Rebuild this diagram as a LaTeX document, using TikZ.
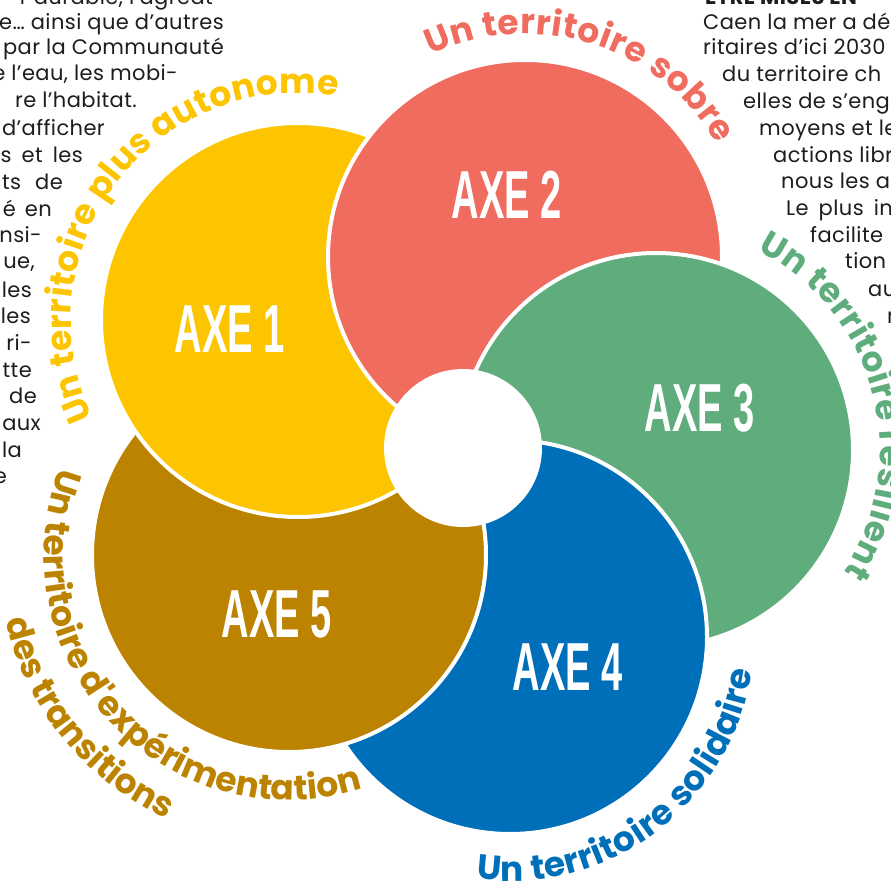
\documentclass[tikz,border=0pt]{standalone}
\usepackage{fontspec}
\usetikzlibrary{decorations.text,calc}
\newfontfamily\arcfont{Poppins}
\newfontfamily\bodyfont[LetterSpace=2]{Poppins}
\newfontfamily\axefont[FakeStretch=0.56]{Liberation Sans}
\definecolor{cyel}{HTML}{FDC500}
\definecolor{cred}{HTML}{EF6C5F}
\definecolor{cgrn}{HTML}{5FAC7D}
\definecolor{cblu}{HTML}{006FBA}
\definecolor{cbrn}{HTML}{BC8300}
\definecolor{ctxt}{HTML}{1D1D1B}
\begin{document}
\begin{tikzpicture}[x=1pt,y=1pt,
  petal/.style={draw=white, line width=4pt},
  axelabel/.style={text=white, inner sep=0pt, font=\axefont\bfseries\fontsize{68}{68}\selectfont},
  bodyL/.style={anchor=base east, inner sep=0pt, text=ctxt, font=\bodyfont\fontsize{21}{21}\selectfont},
  bodyR/.style={anchor=base west, inner sep=0pt, text=ctxt, font=\bodyfont\fontsize{21}{21}\selectfont},
  arctext/.style 2 args={decorate, decoration={text along path, text align={fit to path},
     text={|\arcfont\bfseries\fontsize{34.5}{34.5}\selectfont\color{#1}|#2}}}
]
\useasboundingbox (0,0) rectangle (891,-885);
\clip (0,0) rectangle (891,-885);

% body text, left column
\node[bodyL] (l1) at (213,-5) {r durable, l’agréat};
\node[bodyL] (l2) at (224,-30) {ne… ainsi que d’autres};
\node[bodyL] (l3) at (224,-55) {par la Communauté};
\node[bodyL] (l4) at (178,-81) {e l’eau, les mobi-};
\node[bodyL] (l5) at (137,-108) {re l’habitat.};
\node[bodyL] (l6) at (105,-136) {d’afficher};
\node[bodyL] (l7) at (83,-163) {s\hspace{4pt} et\hspace{4pt} les};
\node[bodyL] (l8) at (63,-190) {ts\hspace{8pt} de};
\node[bodyL] (l9) at (52,-217) {é\hspace{3pt} en};
\node[bodyL] (l10) at (42,-243) {nsi-};
\node[bodyL] (l11) at (35,-269) {ue,};
\node[bodyL] (l12) at (32,-297) {les};
\node[bodyL] (l13) at (31,-323) {les};
\node[bodyL] (l14) at (32,-350) {ri-};
\node[bodyL] (l15) at (32,-377) {tte};
\node[bodyL] (l16) at (37,-403) {de};
\node[bodyL] (l17) at (41,-430) {aux};
\node[bodyL] (l18) at (22,-457) {la};
\node[bodyL] (l19) at (7,-483) {e};

% body text, right column
\node[bodyR, font=\bodyfont\bfseries\fontsize{21}{21}\selectfont] (r0) at (705,-5) {ÊTRE MISES EN};
\node[bodyR] (r1) at (703,-30) {Caen la mer a défi};
\node[bodyR] (r2) at (703,-55) {ritaires d’ici 2030};
\node[bodyR] (r3) at (722,-82) {du territoire ch};
\node[bodyR] (r4) at (743,-109) {elles de s’eng};
\node[bodyR] (r5) at (759,-136) {moyens et le};
\node[bodyR] (r6) at (773,-163) {actions libr};
\node[bodyR] (r7) at (781,-189) {nous les ac};
\node[bodyR] (r8) at (786,-216) {Le\hspace{4pt} plus\hspace{4pt} in};
\node[bodyR] (r9) at (810,-243) {facilite};
\node[bodyR] (r10) at (845,-269) {tion};
\node[bodyR] (r11) at (868,-296) {au};
\node[bodyR] (r12) at (887,-323) {n};

% centres
\coordinate (Y) at (298,-320);
\coordinate (R) at (525,-257);
\coordinate (G) at (656,-450);
\coordinate (B) at (510,-637);
\coordinate (N) at (289,-555);
\coordinate (C) at (463,-448);

% petals
\filldraw[petal, fill=cyel] (Y) circle (197);
\filldraw[petal, fill=cred] (R) circle (197);
\filldraw[petal, fill=cgrn] (G) circle (197);
\filldraw[petal, fill=cblu] (B) circle (197);
\filldraw[petal, fill=cbrn] (N) circle (197);
\begin{scope}
  \clip (N) circle (200);
  \filldraw[petal, fill=cyel] (Y) circle (197);
\end{scope}
\begin{scope}
  \clip (N) circle (200);
  \clip (Y) circle (200);
  \filldraw[petal, fill=cred] (R) circle (197);
\end{scope}
\fill[white] (C) circle (79);

% axe labels
\node[axelabel] (a1) at (230,-329) {AXE 1};
\node[axelabel] (a2) at (507,-195) {AXE 2};
\node[axelabel] (a3) at (700,-408) {AXE 3};
\node[axelabel] (a4) at (568,-667) {AXE 4};
\node[axelabel] (a5) at (277,-614) {AXE 5};

% curved titles
\path[arctext={cyel}{Un territoire plus autonome}] ($(Y)+(205.5:227)$) arc[start angle=205.5, end angle=80, radius=227];
\path[arctext={cred}{Un territoire sobre}] ($(R)+(115:223)$) arc[start angle=115, end angle=30.5, radius=223];
\path[arctext={cgrn}{Un territoire resilient}] ($(G)+(63:224)$) arc[start angle=63, end angle=-33, radius=224];
\path[arctext={cblu}{Un territoire solidaire}] ($(B)+(262:244)$) arc[start angle=262, end angle=352, radius=244];
\path[arctext={cbrn}{Un territoire d'expérimentation}] ($(N)+(159:245)$) arc[start angle=159, end angle=286, radius=245];
\path[arctext={cbrn}{des transitions}] ($(N)+(193:291)$) arc[start angle=193, end angle=245, radius=291];
\end{tikzpicture}
\end{document}
